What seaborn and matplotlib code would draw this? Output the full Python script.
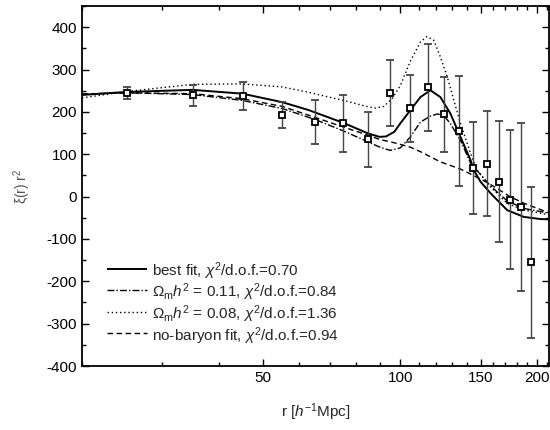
import numpy as np
import pandas as pd
import matplotlib
matplotlib.use("Agg")
import matplotlib.pyplot as plt
import seaborn as sns
from matplotlib.ticker import FixedLocator, NullFormatter, FixedFormatter, MultipleLocator

# ---- data points (r, xi r^2, error) ----
r_data = [25.1, 35.1, 45.1, 55.0, 65.0, 74.8, 85.0, 94.7, 104.8, 114.9,
          124.5, 134.6, 144.5, 154.6, 164.4, 173.9, 184.0, 193.7]
xi_data = [245, 239, 237, 193, 176, 173, 135, 244, 208, 258,
           194, 155, 67, 78, 35, -7, -25, -155]
err_data = [14, 25, 33, 31, 51, 67, 65, 78, 79, 103,
            88, 129, 109, 123, 143, 164, 198, 178]

# ---- model curves ----
r_best = [20, 25, 35, 45, 55, 63, 75, 85, 90, 93, 97, 100, 105.2, 110.7, 116.4,
          122.4, 128.8, 135.5, 142.6, 145, 150, 157.7, 171.6, 186.7, 203, 214]
xi_best = [240, 247, 252, 243, 223, 204, 174, 149, 141, 142, 153, 173, 204, 235, 251,
           235, 196, 141, 86, 62, 35, 8, -32, -48, -53, -54]

r_b011 = [20, 25, 35, 45, 55, 65, 75, 85, 90, 95, 100, 105.2, 110.7, 116.4, 120.4,
          124.5, 128.8, 135.5, 142.6, 157.7, 171.6, 186.7, 214]
xi_b011 = [242, 245, 241, 227, 208, 182, 155, 129, 117, 109, 115, 141, 176, 190, 195,
           192, 172, 133, 79, 25, -10, -28, -40]

r_b008 = [20, 25, 35, 45, 55, 63, 75, 85, 88, 92, 96, 100, 105.2, 110.7, 114.4,
          118.4, 122.4, 126.7, 131, 135.5, 142.6, 147.5, 157.7, 171.6, 186.7, 214]
xi_b008 = [233, 248, 265, 266, 259, 246, 227, 212, 209, 213, 232, 262, 320, 365, 378,
           369, 330, 283, 228, 173, 102, 62, 23, -16, -32, -44]

r_nob = [20, 25, 35, 45, 55, 65, 75, 85, 90, 97, 105, 110.7, 122.4, 135.5, 144,
         157, 174, 187, 214]
xi_nob = [242, 245, 243, 231, 213, 187, 164, 145, 135, 127, 117, 106, 82, 65, 51,
          30, 0, -16, -40]

labels = [r"best fit, $\chi^2$/d.o.f.=0.70",
          r"$\Omega_{\rm m}h^2$ = 0.11, $\chi^2$/d.o.f.=0.84",
          r"$\Omega_{\rm m}h^2$ = 0.08, $\chi^2$/d.o.f.=1.36",
          r"no-baryon fit, $\chi^2$/d.o.f.=0.94"]

sns.set_style("ticks")
plt.rcParams['font.family'] = ['Liberation Sans', 'DejaVu Sans']
plt.rcParams['mathtext.fontset'] = 'custom'
plt.rcParams['mathtext.rm'] = 'Liberation Sans'
plt.rcParams['mathtext.it'] = 'Liberation Sans:italic'
plt.rcParams['mathtext.bf'] = 'Liberation Sans:bold'
plt.rcParams['axes.unicode_minus'] = False

fig = plt.figure(figsize=(5.5, 4.3), dpi=100)
ax = fig.add_axes([82/550, 1-366/430, (549-82)/550, (366-6)/430])

styles = [
    (r_best, xi_best, (0, ()), 1.4),
    (r_b011, xi_b011, (0, (5, 1.5, 1, 1.5)), 1.0),
    (r_b008, xi_b008, (0, (1, 2)), 1.0),
    (r_nob, xi_nob, (0, (4, 2.5)), 1.0),
]
for (rx, yy, ls, lw), lab in zip(styles, labels):
    sns.lineplot(x=rx, y=yy, ax=ax, color='black', linestyle=ls, linewidth=lw,
                 label=lab, sort=False)

ax.errorbar(r_data, xi_data, yerr=err_data, fmt='s', mfc='white', mec='black',
            mew=1.3, ms=5, ecolor='#444444', elinewidth=1.0, capsize=3,
            capthick=1.0, zorder=5)

ax.set_xscale('log')
ax.set_xlim(20, 212)
ax.set_ylim(-400, 450)

ax.xaxis.set_major_locator(FixedLocator([50, 100, 150, 200]))
ax.xaxis.set_major_formatter(FixedFormatter(['50', '100', '150', '200']))
minors = [v for v in range(20, 211, 10) if v not in (50, 100, 150, 200)]
ax.xaxis.set_minor_locator(FixedLocator(minors))
ax.xaxis.set_minor_formatter(NullFormatter())
ax.yaxis.set_major_locator(FixedLocator(list(range(-400, 401, 100))))
ax.yaxis.set_minor_locator(MultipleLocator(50))

ax.tick_params(which='both', direction='in', top=True, right=True,
               labelsize=11, colors='black', width=1.0)
ax.tick_params(which='major', length=5)
ax.tick_params(which='minor', length=3)
for s in ax.spines.values():
    s.set_linewidth(1.3)
    s.set_color('black')

ax.set_xlabel(r"r [$h^{-1}$Mpc]", fontsize=11, labelpad=12)
ax.set_ylabel(r"ξ(r) r$^2$", fontsize=10, color='#555555', labelpad=10)

leg = ax.legend(loc='upper left', bbox_to_anchor=(0.04, 0.311), frameon=False,
                fontsize=11, handlelength=2.6, handletextpad=0.35,
                handleheight=1.45, labelspacing=0.0, borderaxespad=0)

fig.savefig("out.png", dpi=100)
